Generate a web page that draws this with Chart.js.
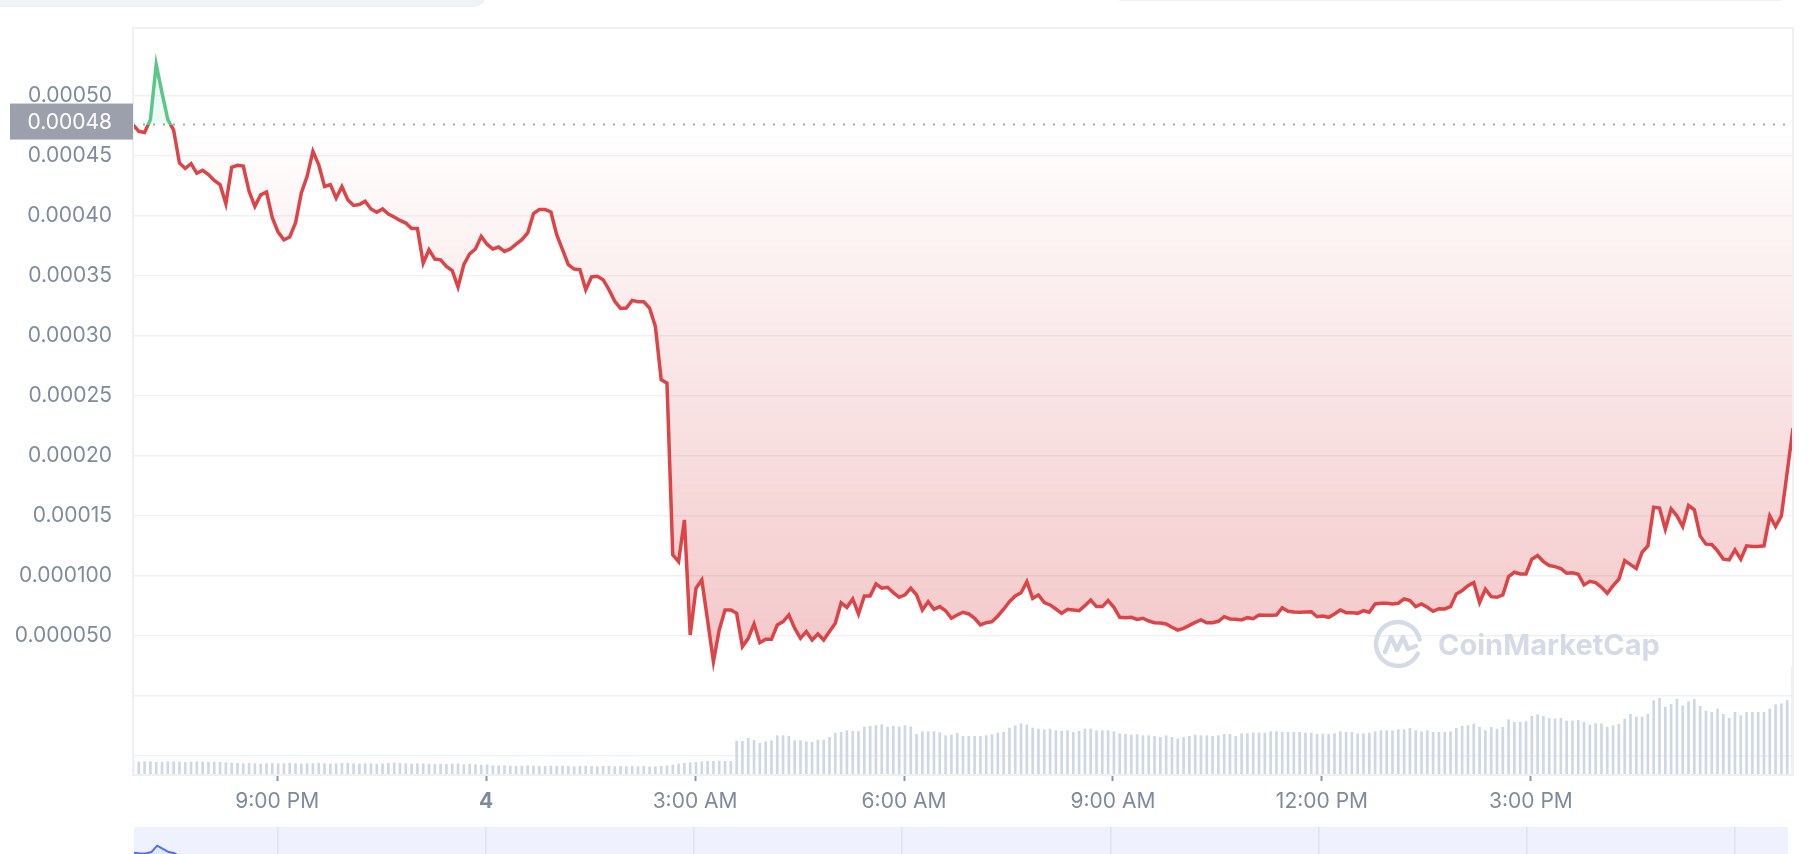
<!DOCTYPE html>
<html>
<head>
<meta charset="utf-8">
<script src="https://cdn.jsdelivr.net/npm/chart.js@4.4.0/dist/chart.umd.min.js"></script>
<style>
  html, body { margin: 0; padding: 0; background: #fff; overflow: hidden; }
  body { width: 1820px; height: 854px; position: relative; }
  #priceChart { position: absolute; left: 0; top: 0; }
  #nav { position: absolute; left: 134px; top: 827px; width: 1654px; height: 110px; background: #eff2fe; }
  .pill { position: absolute; left: -20px; top: -20px; width: 506px; height: 27px; border-radius: 12px; background: #eff2f5; }
  .box { position: absolute; left: 1114px; top: -40px; width: 673px; height: 40px; border-bottom: 1px solid #eceff3; border-radius: 8px; }
</style>
</head>
<body>
<div class="pill"></div>
<div class="box"></div>
<canvas id="priceChart" width="1820" height="822"></canvas>
<div id="nav"><canvas id="navChart" width="1654" height="110"></canvas></div>
<script>
// 24h of 5 minute points, first one at 6:56 PM on the 3rd
const startHour = 18.93;
const stepMinutes = 5;

const prices = [
  0.0004756, 0.0004700, 0.0004690, 0.0004797, 0.0005256, 0.0005020, 0.0004797, 0.0004710, 0.0004436, 0.0004390,
  0.0004430, 0.0004350, 0.0004375, 0.0004340, 0.0004290, 0.0004256, 0.0004097, 0.0004400, 0.0004417, 0.0004410,
  0.0004200, 0.0004075, 0.0004170, 0.0004194, 0.0003980, 0.0003860, 0.0003797, 0.0003820, 0.0003936, 0.0004186,
  0.0004325, 0.0004533, 0.0004420, 0.0004240, 0.0004256, 0.0004144, 0.0004240, 0.0004130, 0.0004083, 0.0004090,
  0.0004117, 0.0004053, 0.0004025, 0.0004053, 0.0004010, 0.0003986, 0.0003958, 0.0003936, 0.0003890, 0.0003890,
  0.0003603, 0.0003714, 0.0003636, 0.0003630, 0.0003575, 0.0003540, 0.0003403, 0.0003590, 0.0003680, 0.0003720,
  0.0003825, 0.0003760, 0.0003720, 0.0003736, 0.0003700, 0.0003720, 0.0003760, 0.0003798, 0.0003853, 0.0004014,
  0.0004048, 0.0004048, 0.0004028, 0.0003839, 0.0003714, 0.0003589, 0.0003553, 0.0003548, 0.0003381, 0.0003487,
  0.0003492, 0.0003464, 0.0003381, 0.0003284, 0.0003225, 0.0003228, 0.0003292, 0.0003281, 0.0003281, 0.0003228,
  0.0003075, 0.0002631, 0.0002603, 0.0001173, 0.0001117, 0.0001464, 0.0000506, 0.0000895, 0.0000964, 0.0000626,
  0.0000284, 0.0000548, 0.0000714, 0.0000714, 0.0000686, 0.0000409, 0.0000478, 0.0000598, 0.0000442, 0.0000470,
  0.0000470, 0.0000589, 0.0000617, 0.0000673, 0.0000562, 0.0000478, 0.0000534, 0.0000464, 0.0000514, 0.0000464,
  0.0000534, 0.0000603, 0.0000775, 0.0000736, 0.0000806, 0.0000681, 0.0000831, 0.0000831, 0.0000931, 0.0000895,
  0.0000903, 0.0000859, 0.0000820, 0.0000840, 0.0000895, 0.0000839, 0.0000714, 0.0000783, 0.0000720, 0.0000742,
  0.0000708, 0.0000645, 0.0000672, 0.0000695, 0.0000681, 0.0000645, 0.0000589, 0.0000608, 0.0000617, 0.0000664,
  0.0000720, 0.0000783, 0.0000831, 0.0000858, 0.0000950, 0.0000811, 0.0000839, 0.0000775, 0.0000756, 0.0000722,
  0.0000686, 0.0000720, 0.0000714, 0.0000708, 0.0000750, 0.0000797, 0.0000742, 0.0000742, 0.0000792, 0.0000736,
  0.0000653, 0.0000650, 0.0000653, 0.0000636, 0.0000645, 0.0000622, 0.0000608, 0.0000606, 0.0000597, 0.0000570,
  0.0000547, 0.0000561, 0.0000586, 0.0000611, 0.0000631, 0.0000608, 0.0000608, 0.0000620, 0.0000658, 0.0000639,
  0.0000636, 0.0000631, 0.0000650, 0.0000642, 0.0000672, 0.0000670, 0.0000670, 0.0000672, 0.0000733, 0.0000703,
  0.0000697, 0.0000695, 0.0000697, 0.0000700, 0.0000658, 0.0000664, 0.0000653, 0.0000681, 0.0000714, 0.0000692,
  0.0000692, 0.0000686, 0.0000708, 0.0000695, 0.0000764, 0.0000770, 0.0000770, 0.0000764, 0.0000770, 0.0000806,
  0.0000792, 0.0000742, 0.0000764, 0.0000737, 0.0000703, 0.0000725, 0.0000723, 0.0000742, 0.0000848, 0.0000876,
  0.0000917, 0.0000942, 0.0000776, 0.0000887, 0.0000825, 0.0000820, 0.0000839, 0.0000992, 0.0001028, 0.0001014,
  0.0001014, 0.0001137, 0.0001167, 0.0001117, 0.0001084, 0.0001075, 0.0001059, 0.0001020, 0.0001023, 0.0001012,
  0.0000923, 0.0000953, 0.0000942, 0.0000903, 0.0000853, 0.0000917, 0.0000970, 0.0001125, 0.0001092, 0.0001059,
  0.0001195, 0.0001248, 0.0001570, 0.0001562, 0.0001387, 0.0001556, 0.0001498, 0.0001409, 0.0001584, 0.0001548,
  0.0001331, 0.0001262, 0.0001259, 0.0001206, 0.0001137, 0.0001131, 0.0001214, 0.0001137, 0.0001248, 0.0001242,
  0.0001242, 0.0001248, 0.0001498, 0.0001409, 0.0001498, 0.0001862, 0.0002228
];

// volume, relative units
const volumes = [
  13.3, 13.0, 13.3, 13.3, 12.7, 13.0, 13.3, 13.3, 13.0, 12.7, 13.0, 13.3, 13.0, 12.7, 13.0, 12.7, 12.3, 12.0,
  11.7, 11.3, 11.7, 11.3, 11.0, 11.3, 11.7, 11.3, 11.3, 11.7, 11.3, 11.0, 11.3, 11.3, 11.7, 11.3, 11.0, 11.3,
  11.7, 11.7, 11.3, 11.0, 11.3, 11.3, 11.0, 11.3, 11.7, 12.0, 11.7, 11.3, 11.0, 11.3, 11.3, 11.0, 10.7, 11.0,
  10.7, 11.0, 11.3, 10.3, 10.7, 10.3, 10.0, 10.3,
  9.3, 9.0, 9.3, 9.0, 8.7, 9.0, 9.3, 9.0, 8.7, 8.7, 9.0, 8.7, 9.0, 8.7, 8.3, 8.7, 9.0, 8.7, 8.3, 8.7,
  8.7, 8.3, 8.7, 8.3, 8.7, 8.3, 8.7,
  8.0, 8.3, 8.7, 9.3, 10.0, 11.0, 11.7, 12.3, 12.7, 13.3, 13.7, 13.7, 14.0, 13.7, 13.7,
  34.0, 33.7, 36.7, 34.7, 31.7, 33.3, 34.3, 39.3, 39.3, 38.7, 34.3, 34.3, 33.3, 32.7, 35.0, 35.0,
  37.7, 41.7, 42.7, 44.3, 43.7, 43.7, 48.0, 48.7, 49.3, 50.3, 48.0, 48.7, 48.0, 49.3, 48.3, 40.7,
  43.3, 43.3, 43.3, 42.3, 39.3, 40.0, 41.7, 38.7, 38.7, 38.7, 38.7, 39.3, 40.3, 42.0, 42.7, 47.0,
  49.3, 51.3, 50.0, 47.0, 46.0, 45.3, 46.0, 44.3, 43.7, 44.3, 42.7, 43.7, 46.0, 46.0, 44.3, 44.3,
  44.3, 43.3, 41.3, 40.7, 40.0, 40.3, 39.3, 39.3, 38.7, 37.7, 39.3, 37.7, 36.0, 37.7, 38.7, 40.0,
  39.3, 39.3, 38.7, 39.3, 40.7, 40.7, 38.7, 41.3, 41.3, 42.0, 42.0, 42.0, 43.3, 43.3, 42.7, 42.7,
  42.7, 42.7,
  42.0, 42.0, 40.7, 41.0, 40.7, 41.3, 43.3, 42.7, 42.7, 41.3, 41.3, 42.0, 43.3, 44.3, 44.3, 44.3,
  45.3, 45.3, 46.7, 44.3, 43.3, 44.3, 42.7, 42.7, 42.7, 43.3, 46.7, 48.7, 49.3, 51.0, 47.7, 44.3,
  47.7, 46.0, 47.7, 55.3, 52.7, 52.7, 53.3, 58.7, 60.3, 58.7, 56.7, 56.0, 56.7, 54.0, 54.0, 54.7,
  52.7, 50.0, 51.3, 51.3, 47.7, 49.3, 50.7, 56.0, 60.7, 58.0, 58.0, 60.7, 74.3, 76.7, 67.7, 70.7,
  76.0, 69.3, 73.3, 75.7, 68.7, 64.0, 62.7, 66.0, 60.7, 56.7, 62.7, 59.3, 62.7, 62.7, 62.7, 62.7,
  66.0, 70.3, 71.3, 74.7, 108.7
];

const xTicks = [21, 24, 27, 30, 33, 36, 39];
const xTickLabels = ['9:00 PM', '4', '3:00 AM', '6:00 AM', '9:00 AM', '12:00 PM', '3:00 PM'];
const navTicks = [21, 24, 27, 30, 33, 36, 39, 42];
const yTicks = [0.0005, 0.00045, 0.0004, 0.00035, 0.0003, 0.00025, 0.0002, 0.00015, 0.0001, 0.00005, 0, -0.00005];
const yTickLabels = ['0.00050', '0.00045', '0.00040', '0.00035', '0.00030', '0.00025', '0.00020', '0.00015', '0.000100', '0.000050', '', ''];

const baseline = prices[0];
const xMin = startHour;
const xMax = startHour + (prices.length - 1) * stepMinutes / 60;

const pricePoints = prices.map((p, i) => ({ x: startHour + i * stepMinutes / 60, y: p }));
const volumePoints = volumes.map((v, i) => ({ x: startHour + i * stepMinutes / 60, y: v }));

const RED = '#dc4447';
const GREEN = '#5cc68a';
const LABEL = '#808a9d';

Chart.defaults.font.family = 'Inter, "Noto Sans", sans-serif';

// green above the opening price, red below it
function lineStroke(c) {
  const chart = c.chart;
  const area = chart.chartArea;
  if (!area) return RED;
  const yBase = chart.scales.y.getPixelForValue(baseline);
  let f = (yBase - area.top) / (area.bottom - area.top);
  f = Math.min(Math.max(f, 0), 1);
  const g = chart.ctx.createLinearGradient(0, area.top, 0, area.bottom);
  g.addColorStop(0, GREEN);
  g.addColorStop(f, GREEN);
  g.addColorStop(f, RED);
  g.addColorStop(1, RED);
  return g;
}

function lossFill(c) {
  const chart = c.chart;
  if (!chart.chartArea) return 'rgba(214,60,64,0.12)';
  const y = chart.scales.y;
  const g = chart.ctx.createLinearGradient(0, y.getPixelForValue(baseline), 0, y.getPixelForValue(0));
  g.addColorStop(0, 'rgba(214,60,64,0)');
  g.addColorStop(1, 'rgba(214,60,64,0.3)');
  return g;
}

const decor = {
  id: 'decor',
  beforeDatasetsDraw(chart) {
    const { ctx, chartArea: a, scales } = chart;
    ctx.save();
    // watermark
    const cx = a.right - 395, cy = a.bottom - 131;
    ctx.strokeStyle = '#d5dae6';
    ctx.lineWidth = 4.5;
    ctx.lineCap = 'round';
    ctx.lineJoin = 'round';
    ctx.beginPath();
    ctx.arc(cx, cy, 22, 0.45, Math.PI * 2 - 0.2);
    ctx.stroke();
    ctx.beginPath();
    ctx.moveTo(cx - 13, cy + 8);
    ctx.lineTo(cx - 7, cy - 7);
    ctx.lineTo(cx - 1, cy + 6);
    ctx.lineTo(cx + 5, cy - 7);
    ctx.lineTo(cx + 10, cy + 5);
    ctx.lineTo(cx + 18, cy + 2);
    ctx.stroke();
    ctx.fillStyle = '#d5dae6';
    ctx.font = 'bold 29px Inter';
    ctx.textBaseline = 'middle';
    ctx.fillText('CoinMarketCap', cx + 40, cy + 2);

    // dotted opening price line
    const yBase = scales.y.getPixelForValue(baseline);
    ctx.setLineDash([2, 8]);
    ctx.lineWidth = 2;
    ctx.lineCap = 'butt';
    ctx.strokeStyle = '#a3a8b4';
    ctx.beginPath();
    ctx.moveTo(a.left, yBase);
    ctx.lineTo(a.right, yBase);
    ctx.stroke();
    ctx.restore();
  },
  afterDraw(chart) {
    const { ctx, chartArea: a, scales } = chart;
    ctx.save();
    ctx.strokeStyle = '#eef0f4';
    ctx.lineWidth = 2;
    ctx.strokeRect(a.left, a.top, a.right - a.left, a.bottom - a.top);

    const yBase = scales.y.getPixelForValue(baseline);
    ctx.fillStyle = '#9ba0ac';
    ctx.fillRect(10, yBase - 21, a.left - 10, 36);
    ctx.fillStyle = '#ffffff';
    ctx.font = '21px Inter';
    ctx.textAlign = 'right';
    ctx.textBaseline = 'middle';
    ctx.fillText(baseline.toFixed(5), a.left - 21, yBase - 2);
    ctx.restore();
  }
};

new Chart(document.getElementById('priceChart'), {
  type: 'line',
  data: {
    datasets: [
      {
        type: 'line',
        data: pricePoints,
        borderColor: lineStroke,
        backgroundColor: lossFill,
        borderWidth: 3.5,
        pointRadius: 0,
        tension: 0,
        fill: { target: { value: baseline }, above: 'rgba(22,199,132,0.08)' },
        order: 0
      },
      {
        type: 'bar',
        data: volumePoints,
        yAxisID: 'yv',
        backgroundColor: '#cfd6e4',
        barThickness: 2,
        order: 1
      }
    ]
  },
  options: {
    responsive: false,
    animation: false,
    devicePixelRatio: 1,
    layout: { padding: { top: 28, right: 27, left: 0, bottom: 0 } },
    plugins: { legend: { display: false }, tooltip: { enabled: false } },
    scales: {
      x: {
        type: 'linear',
        min: xMin,
        max: xMax,
        offset: false,
        afterBuildTicks: s => { s.ticks = xTicks.map(v => ({ value: v })); },
        afterFit: s => { s.height = 47; },
        grid: { offset: false, drawOnChartArea: false, drawTicks: true, tickLength: 6, tickWidth: 2, tickColor: '#8c94a3' },
        border: { display: false },
        ticks: {
          autoSkip: false,
          maxRotation: 0,
          padding: 8,
          color: LABEL,
          font: c => ({ size: 21, weight: c.tick && c.tick.value === 24 ? 'bold' : 'normal' }),
          callback: v => xTickLabels[xTicks.indexOf(v)]
        }
      },
      y: {
        position: 'left',
        min: -0.000066,
        max: 0.000556,
        afterBuildTicks: s => { s.ticks = yTicks.map(v => ({ value: v })); },
        afterFit: s => { s.width = 133; s.paddingTop = 0; s.paddingBottom = 0; },
        grid: { color: '#f0f1f5', lineWidth: 1.5, drawTicks: false },
        border: { display: false },
        ticks: {
          padding: 21,
          color: LABEL,
          font: { size: 21 },
          callback: v => yTickLabels[yTicks.indexOf(v)]
        }
      },
      yv: {
        display: false,
        min: 0,
        max: 747
      }
    }
  },
  plugins: [decor]
});

// navigator strip under the chart
new Chart(document.getElementById('navChart'), {
  type: 'line',
  data: {
    datasets: [{
      data: pricePoints,
      borderColor: '#4b6ef5',
      borderWidth: 2,
      pointRadius: 0,
      fill: 'start',
      backgroundColor: 'rgba(56,97,251,0.07)'
    }]
  },
  options: {
    responsive: false,
    animation: false,
    devicePixelRatio: 1,
    layout: { padding: 0 },
    plugins: { legend: { display: false }, tooltip: { enabled: false } },
    scales: {
      x: {
        type: 'linear',
        min: xMin,
        max: xMax,
        afterBuildTicks: s => { s.ticks = navTicks.map(v => ({ value: v })); },
        ticks: { display: false },
        grid: { color: '#dde2f1', lineWidth: 1.5, drawTicks: false },
        border: { display: false }
      },
      y: { display: false, min: -0.000127, max: 0.000659 }
    }
  }
});
</script>
</body>
</html>
